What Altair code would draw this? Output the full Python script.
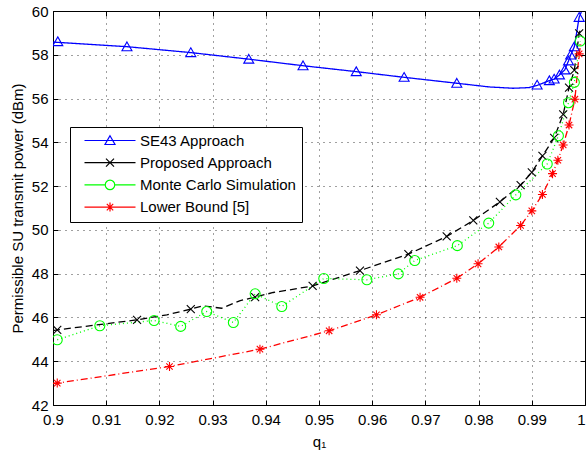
import altair as alt
import pandas as pd

FONT = "Liberation Sans"

SERIES = ["SE43 Approach", "Proposed Approach", "Monte Carlo Simulation", "Lower Bound [5]"]
COLORS = ["#0000ff", "#000000", "#00ff00", "#ff0000"]

# ---- SE43 Approach (blue, solid, triangles) ----
se43_line_q = [0.9000, 0.9139, 0.9259, 0.9368, 0.9470, 0.9570, 0.9660, 0.9759, 0.9820,
               0.9865, 0.9895, 0.9910, 0.9933, 0.9942, 0.9952, 0.9962, 0.9969, 0.9973,
               0.9980, 0.9989, 0.9993]
se43_line_v = [58.58, 58.37, 58.10, 57.80, 57.50, 57.23, 56.97, 56.70, 56.53,
               56.47, 56.50, 56.60, 56.82, 56.89, 57.08, 57.31, 57.72, 57.99,
               58.37, 59.71, 59.95]
se43_mark_q = [0.9009, 0.9139, 0.9259, 0.9368, 0.9470, 0.9570, 0.9660, 0.9759, 0.9910,
               0.9933, 0.9942, 0.9952, 0.9962, 0.9969, 0.9973, 0.9980, 0.9989]
se43_mark_v = [58.60, 58.37, 58.10, 57.80, 57.50, 57.23, 56.97, 56.70, 56.62,
               56.82, 56.89, 57.08, 57.31, 57.72, 57.99, 58.37, 59.71]

# ---- Proposed Approach (black, dashed, x) ----
prop_line_q = [0.9000, 0.9008, 0.9158, 0.9214, 0.9259, 0.9282, 0.9317, 0.9352, 0.9380,
               0.9414, 0.9445, 0.9488, 0.9577, 0.9668, 0.9740, 0.9790, 0.9840, 0.9879,
               0.9900, 0.9920, 0.9942, 0.9959, 0.9970, 0.9980, 0.9989, 0.9993]
prop_line_v = [45.40, 45.43, 45.89, 46.12, 46.38, 46.53, 46.42, 46.77, 46.93,
               47.14, 47.26, 47.44, 48.14, 48.89, 49.70, 50.43, 51.28, 52.05,
               52.63, 53.38, 54.20, 55.28, 56.50, 57.30, 58.98, 59.25]
prop_mark_q = [0.9008, 0.9158, 0.9259, 0.9380, 0.9488, 0.9577, 0.9668, 0.9740, 0.9790,
               0.9840, 0.9879, 0.9900, 0.9920, 0.9942, 0.9959, 0.9970, 0.9980, 0.9989]
prop_mark_v = [45.43, 45.89, 46.38, 46.93, 47.44, 48.14, 48.89, 49.70, 50.43,
               51.28, 52.05, 52.63, 53.38, 54.20, 55.28, 56.50, 57.30, 58.98]

# ---- Monte Carlo Simulation (green, dotted, circles) ----
mc_q = [0.9008, 0.9088, 0.9190, 0.9240, 0.9289, 0.9339, 0.9380, 0.9430, 0.9509, 0.9590,
        0.9649, 0.9680, 0.9760, 0.9819, 0.9870, 0.9929, 0.9950, 0.9969, 0.9980, 0.9991]
mc_v = [44.98, 45.62, 45.86, 45.59, 46.27, 45.77, 47.08, 46.50, 47.78, 47.72,
        47.99, 48.60, 49.28, 50.31, 51.60, 53.01, 54.30, 55.81, 56.74, 58.63]

# ---- Lower Bound [5] (red, dash-dot, asterisks) ----
lb_line_q = [0.9000, 0.9008, 0.9219, 0.9389, 0.9519, 0.9608, 0.9690, 0.9759, 0.9799, 0.9838,
             0.9879, 0.9900, 0.9920, 0.9939, 0.9949, 0.9959, 0.9970, 0.9981, 0.9989, 0.9993]
lb_line_v = [42.98, 43.00, 43.76, 44.55, 45.39, 46.12, 46.92, 47.79, 48.45, 49.22,
             50.20, 50.87, 51.62, 52.57, 53.18, 53.88, 54.79, 55.97, 58.04, 58.60]
lb_mark_q = [0.9008, 0.9219, 0.9389, 0.9519, 0.9608, 0.9690, 0.9759, 0.9799, 0.9838,
             0.9879, 0.9900, 0.9920, 0.9939, 0.9949, 0.9959, 0.9970, 0.9981, 0.9989]
lb_mark_v = [43.00, 43.76, 44.55, 45.39, 46.12, 46.92, 47.79, 48.45, 49.22,
             50.20, 50.87, 51.62, 52.57, 53.18, 53.88, 54.79, 55.97, 58.04]

x_ticks = [0.9, 0.91, 0.92, 0.93, 0.94, 0.95, 0.96, 0.97, 0.98, 0.99, 1.0]
y_ticks = [42, 44, 46, 48, 50, 52, 54, 56, 58, 60]


def frame(qs, vs, name):
    return pd.DataFrame({"q": qs, "v": vs, "series": name})


lines_df = pd.concat([
    frame(se43_line_q, se43_line_v, SERIES[0]),
    frame(prop_line_q, prop_line_v, SERIES[1]),
    frame(mc_q, mc_v, SERIES[2]),
    frame(lb_line_q, lb_line_v, SERIES[3]),
], ignore_index=True)

marks_df = pd.concat([
    frame(se43_mark_q, se43_mark_v, SERIES[0]),
    frame(prop_mark_q, prop_mark_v, SERIES[1]),
    frame(mc_q, mc_v, SERIES[2]),
    frame(lb_mark_q, lb_mark_v, SERIES[3]),
], ignore_index=True)

legend_df = pd.DataFrame({"q": [0.95] * 4, "v": [50.0] * 4, "series": SERIES})

# marker shapes (unit coordinates)
TRI = "M0,-0.95L1,0.8L-1,0.8Z"
XMK = "M-0.8,-0.8L0.8,0.8M-0.8,0.8L0.8,-0.8"
AST = "M-0.9,0L0.9,0M0,-0.9L0,0.9M-0.64,-0.64L0.64,0.64M-0.64,0.64L0.64,-0.64"
# legend symbols: line segment + marker
TRI_L = "M-1,0L9.2,0M4.1,-0.95L5.1,0.8L3.1,0.8Z"
XMK_L = "M-1,0L9.2,0M3.3,-0.8L4.9,0.8M3.3,0.8L4.9,-0.8"
CIR_L = "M-1,0L3.15,0M5.05,0L9.2,0M5.05,0A0.95,0.95,0,1,1,3.15,0A0.95,0.95,0,1,1,5.05,0"
AST_L = "M-1,0L9.2,0M3.2,0L5.0,0M4.1,-0.9L4.1,0.9M3.46,-0.64L4.74,0.64M3.46,0.64L4.74,-0.64"

x_scale = alt.Scale(domain=[0.9, 1.0], nice=False, zero=False)
y_scale = alt.Scale(domain=[42, 60], nice=False, zero=False)
color_scale = alt.Scale(domain=SERIES, range=COLORS)

main_x_axis = alt.Axis(
    orient="bottom", values=x_ticks, format=".2~f", grid=True, gridColor="#000",
    gridDash=[1, 5], gridOpacity=0.75, gridWidth=1, ticks=False, domain=False,
    labelFont=FONT, labelFontSize=15, labelColor="#000", labelPadding=7, labelOverlap=False,
    labelFlush=False,
    labelAlign={"condition": {"test": "datum.value >= 1", "value": "right"}, "value": "center"},
    title="q\u2081", titleFont=FONT, titleFontSize=15,
    titleFontWeight="normal", titleColor="#000", titlePadding=7)
main_y_axis = alt.Axis(
    orient="left", values=y_ticks, format="d", grid=True, gridColor="#000",
    gridDash=[1, 5], gridOpacity=0.75, gridWidth=1, ticks=False, domain=False,
    labelFont=FONT, labelFontSize=15, labelColor="#000", labelPadding=5, labelOverlap=False,
    labelFlush=False, title="Permissible SU transmit power (dBm)", titleFont=FONT,
    titleFontSize=15, titleFontWeight="normal", titleColor="#000", titlePadding=6)


def tick_axis(orient, vals):
    return alt.Axis(orient=orient, offset=-5, values=vals, ticks=True, tickSize=5,
                    tickColor="#000", tickWidth=1, labels=False, domain=False,
                    grid=False, title=None)


lines = alt.Chart(lines_df).mark_line(strokeWidth=1.3, clip=True).encode(
    x=alt.X("q:Q", scale=x_scale, axis=main_x_axis),
    y=alt.Y("v:Q", scale=y_scale, axis=main_y_axis),
    color=alt.Color("series:N", scale=color_scale, legend=None),
    strokeDash=alt.StrokeDash("series:N", scale=alt.Scale(
        domain=SERIES, range=[[1, 0], [7, 4], [1, 3], [7, 3, 1, 3]]), legend=None),
)

markers = alt.Chart(marks_df).mark_point(filled=False, strokeWidth=1.1, size=100, opacity=1,
                                         clip=True).encode(
    x=alt.X("q:Q", scale=x_scale, axis=tick_axis("bottom", x_ticks)),
    y=alt.Y("v:Q", scale=y_scale, axis=tick_axis("left", y_ticks)),
    color=alt.Color("series:N", scale=color_scale, legend=None),
    shape=alt.Shape("series:N", scale=alt.Scale(domain=SERIES, range=[TRI, XMK, "circle", AST]),
                    legend=None),
)

leg = alt.Legend(orient="none", legendX=17, legendY=116, title=None, padding=6,
                 symbolOffset=6, labelOffset=43, rowPadding=6.2, strokeColor="#000",
                 fillColor="#fff", labelFont=FONT, labelFontSize=15, labelColor="#000",
                 symbolSize=100, symbolStrokeWidth=1.2, cornerRadius=0,
                 labelExpr="datum.label + '         '")

legend_layer = alt.Chart(legend_df).transform_filter("false").mark_point(
    filled=False, strokeWidth=1.2, size=100, opacity=1).encode(
    x=alt.X("q:Q", scale=x_scale, axis=tick_axis("top", x_ticks)),
    y=alt.Y("v:Q", scale=y_scale, axis=tick_axis("right", y_ticks)),
    color=alt.Color("series:N", scale=color_scale, legend=leg),
    shape=alt.Shape("series:N", scale=alt.Scale(domain=SERIES, range=[TRI_L, XMK_L, CIR_L, AST_L]),
                    legend=leg),
)

chart = alt.layer(lines, markers, legend_layer).resolve_scale(
    color="independent", shape="independent", strokeDash="independent"
).resolve_axis(x="independent", y="independent").properties(
    width=532, height=394,
    autosize=alt.AutoSizeParams(type="none"),
    padding={"left": 53, "top": 11, "right": 2, "bottom": 48},
    background="white",
).configure_view(stroke="#000", strokeWidth=1)

chart.save("out.html", embed_options={"renderer": "svg", "actions": False})
